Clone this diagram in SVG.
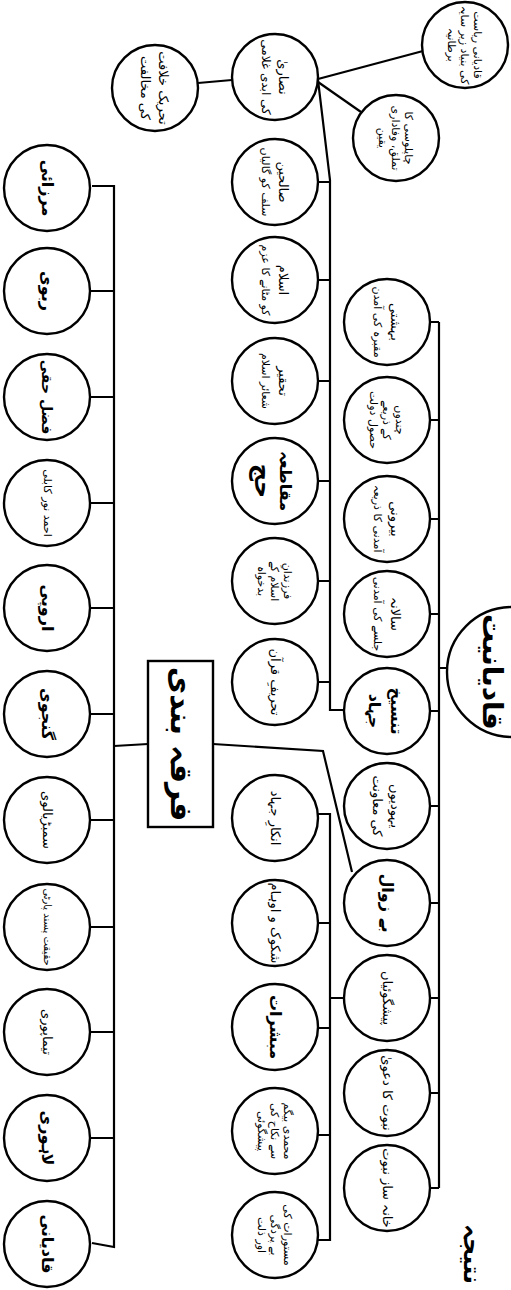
<svg xmlns="http://www.w3.org/2000/svg" width="511" height="1290" viewBox="0 0 511 1290">
<style>
.n{fill:#fff;stroke:#000;stroke-width:2.4}
.c{fill:none;stroke:#000;stroke-width:2.2}
text{font-family:"DejaVu Sans",sans-serif;fill:#000;text-anchor:middle;dominant-baseline:central}
.s{font-size:11px}
.m{font-size:13px}
.l{font-size:16px;font-weight:bold}
</style>
<rect width="511" height="1290" fill="#fff"/>
<g id="connectors">
<polyline class="c" points="92,186 114,186 114,1247 92,1243"/>
<path class="c" d="M90,291H114M90,397H114M90,503H114M90,608H114M90,714H114M90,820H114M90,927H114M90,1032H114M90,1138H114"/>
<line class="c" x1="114" y1="746" x2="148" y2="744"/>
<polyline class="c" points="213,744 323,751 352,872"/>
<line class="c" x1="198" y1="83" x2="232" y2="80"/>
<line class="c" x1="318" y1="79" x2="423" y2="51"/>
<line class="c" x1="318" y1="82" x2="361" y2="112"/>
<polyline class="c" points="318,80 330,180 330,710 344,710"/>
<path class="c" d="M318,182H330M318,280H330M318,381H330M318,481H330M318,581H330M318,682H330"/>
<polyline class="c" points="318,814 330,814 330,1240 318,1240"/>
<path class="c" d="M318,923H330M318,1028H330M318,1135H330M330,998H344"/>
<line class="c" x1="439" y1="322" x2="439" y2="1188"/>
<path class="c" d="M430,322H439M430,420H439M430,519H439M430,614H439M430,711H439M430,806H439M430,903H439M430,998H439M430,1093H439M430,1188H439M439,668H448"/>
</g>
<g id="n-root"><circle class="n" cx="512" cy="672" r="65"/><text class="l" style="font-size:28px" transform="translate(492,672) rotate(90)">قادیانیت</text></g>
<g id="n-firqa"><rect class="n" x="148" y="661" width="65" height="166"/><text class="l" style="font-size:30px" transform="translate(181,744) rotate(90)">فرقہ بندی</text></g>
<g id="n-natija"><text class="l" style="font-size:24px" transform="translate(472,1254) rotate(90)">نتیجہ</text></g>

<g id="a1"><circle class="n" cx="47" cy="188" r="43"/><text class="l" transform="translate(47,188) rotate(90)">مرزائی</text></g>
<g id="a2"><circle class="n" cx="47" cy="291" r="43"/><text class="l" transform="translate(47,291) rotate(90)">ربوی</text></g>
<g id="a3"><circle class="n" cx="47" cy="397" r="43"/><text class="l" style="font-size:14px" transform="translate(47,397) rotate(90)">فضل حقی</text></g>
<g id="a4"><circle class="n" cx="47" cy="503" r="43"/><text class="s" transform="translate(47,503) rotate(90)">احمد نور کابلی</text></g>
<g id="a5"><circle class="n" cx="47" cy="608" r="43"/><text class="l" transform="translate(47,608) rotate(90)">اروپی</text></g>
<g id="a6"><circle class="n" cx="47" cy="714" r="43"/><text class="l" transform="translate(47,714) rotate(90)">گنجوی</text></g>
<g id="a7"><circle class="n" cx="47" cy="820" r="43"/><text class="m" transform="translate(47,820) rotate(90)">سمبڑیالوی</text></g>
<g id="a8"><circle class="n" cx="47" cy="927" r="43"/><text class="s" style="font-size:10px" transform="translate(47,927) rotate(90)">حقیقت پسند پارٹی</text></g>
<g id="a9"><circle class="n" cx="47" cy="1032" r="43"/><text class="m" transform="translate(47,1032) rotate(90)">تیماپوری</text></g>
<g id="a10"><circle class="n" cx="47" cy="1138" r="43"/><text class="l" transform="translate(47,1138) rotate(90)">لاہوری</text></g>
<g id="a11"><circle class="n" cx="47" cy="1244" r="43"/><text class="l" transform="translate(47,1244) rotate(90)">قادیانی</text></g>

<g id="t0"><circle class="n" cx="155" cy="88" r="43"/><text class="m" transform="translate(155,88) rotate(90)"><tspan x="0" y="-9">تحریک خلافت</tspan><tspan x="0" y="9">کی مخالفت</tspan></text></g>
<g id="t1"><circle class="n" cx="465" cy="45" r="43"/><text class="s" transform="translate(465,45) rotate(90)"><tspan x="0" y="-13">قادیانی ریاست</tspan><tspan x="0" y="0">کی بنیاد زیر سایہ</tspan><tspan x="0" y="13">برطانیہ</tspan></text></g>
<g id="t2"><circle class="n" cx="396" cy="138" r="43"/><text class="s" transform="translate(396,138) rotate(90)"><tspan x="0" y="-13">چاپلوسی کا</tspan><tspan x="0" y="0">تملق، وفاداری</tspan><tspan x="0" y="13">یقین</tspan></text></g>

<g id="b1"><circle class="n" cx="275" cy="77" r="43"/><text class="m" transform="translate(275,77) rotate(90)"><tspan x="0" y="-9">نصاریٰ</tspan><tspan x="0" y="9" style="font-size:12px">کی ابدی غلامی</tspan></text></g>
<g id="b2"><circle class="n" cx="275" cy="182" r="43"/><text class="s" transform="translate(275,182) rotate(90)"><tspan x="0" y="-9" style="font-size:13px">صالحین</tspan><tspan x="0" y="9">سلف کو گالیاں</tspan></text></g>
<g id="b3"><circle class="n" cx="275" cy="280" r="43"/><text class="s" transform="translate(275,280) rotate(90)"><tspan x="0" y="-9" style="font-size:13px">اسلام</tspan><tspan x="0" y="9">کو مٹانے کا عزم</tspan></text></g>
<g id="b4"><circle class="n" cx="275" cy="381" r="43"/><text class="s" transform="translate(275,381) rotate(90)"><tspan x="0" y="-9" style="font-size:13px">تحقیر</tspan><tspan x="0" y="9">شعائر اسلام</tspan></text></g>
<g id="b5"><circle class="n" cx="275" cy="481" r="43"/><text class="l" transform="translate(275,481) rotate(90)"><tspan x="0" y="-11">مقاطعہ</tspan><tspan x="0" y="12" style="font-size:24px">حج</tspan></text></g>
<g id="b6"><circle class="n" cx="275" cy="581" r="43"/><text class="s" transform="translate(275,581) rotate(90)"><tspan x="0" y="-13">فرزندانِ</tspan><tspan x="0" y="0">اسلام کے</tspan><tspan x="0" y="13">بدخواہ</tspan></text></g>
<g id="b7"><circle class="n" cx="275" cy="682" r="43"/><text class="m" transform="translate(275,682) rotate(90)">تحریفِ قرآن</text></g>
<g id="b8"><circle class="n" cx="275" cy="818" r="43"/><text class="m" transform="translate(275,818) rotate(90)">انکارِ جہاد</text></g>
<g id="b9"><circle class="n" cx="275" cy="923" r="43"/><text class="m" transform="translate(275,923) rotate(90)">شکوک و اوہام</text></g>
<g id="b10"><circle class="n" cx="275" cy="1027" r="43"/><text class="l" transform="translate(275,1027) rotate(90)">مبشرات</text></g>
<g id="b11"><circle class="n" cx="275" cy="1131" r="43"/><text class="s" transform="translate(275,1131) rotate(90)"><tspan x="0" y="-13">محمدی بیگم</tspan><tspan x="0" y="0">سے نکاح کی</tspan><tspan x="0" y="13">پیشگوئی</tspan></text></g>
<g id="b12"><circle class="n" cx="275" cy="1235" r="43"/><text class="s" transform="translate(275,1235) rotate(90)"><tspan x="0" y="-13">مستورات کی</tspan><tspan x="0" y="0">بے پردگی</tspan><tspan x="0" y="13">اور ذلت</tspan></text></g>

<g id="c1"><circle class="n" cx="387" cy="322" r="43"/><text class="s" transform="translate(387,322) rotate(90)"><tspan x="0" y="-9" style="font-size:13px">بہشتی</tspan><tspan x="0" y="9">مقبرہ کی آمدن</tspan></text></g>
<g id="c2"><circle class="n" cx="387" cy="420" r="43"/><text class="s" transform="translate(387,420) rotate(90)"><tspan x="0" y="-13">چندوں</tspan><tspan x="0" y="0">کے ذریعے</tspan><tspan x="0" y="13">حصول دولت</tspan></text></g>
<g id="c3"><circle class="n" cx="387" cy="519" r="43"/><text class="s" transform="translate(387,519) rotate(90)"><tspan x="0" y="-9" style="font-size:13px">بیرونی</tspan><tspan x="0" y="9">آمدنی کا ذریعہ</tspan></text></g>
<g id="c4"><circle class="n" cx="387" cy="614" r="43"/><text class="s" transform="translate(387,614) rotate(90)"><tspan x="0" y="-9" style="font-size:13px">سالانہ</tspan><tspan x="0" y="9">جلسے کی آمدنی</tspan></text></g>
<g id="c5"><circle class="n" cx="387" cy="711" r="43"/><text class="l" transform="translate(387,711) rotate(90)"><tspan x="0" y="-10">تنسیخ</tspan><tspan x="0" y="12">جہاد</tspan></text></g>
<g id="c6"><circle class="n" cx="387" cy="806" r="43"/><text class="m" transform="translate(387,806) rotate(90)"><tspan x="0" y="-9">یہودیوں</tspan><tspan x="0" y="9">کی معاونت</tspan></text></g>
<g id="c7"><circle class="n" cx="387" cy="903" r="43"/><text class="l" transform="translate(387,903) rotate(90)">بے زوال</text></g>
<g id="c8"><circle class="n" cx="387" cy="998" r="43"/><text class="m" transform="translate(387,998) rotate(90)">پیشگوئیاں</text></g>
<g id="c9"><circle class="n" cx="387" cy="1093" r="43"/><text class="m" transform="translate(387,1093) rotate(90)">نبوت کا دعویٰ</text></g>
<g id="c10"><circle class="n" cx="387" cy="1188" r="43"/><text class="m" transform="translate(387,1188) rotate(90)">خانہ ساز نبوت</text></g>
</svg>
